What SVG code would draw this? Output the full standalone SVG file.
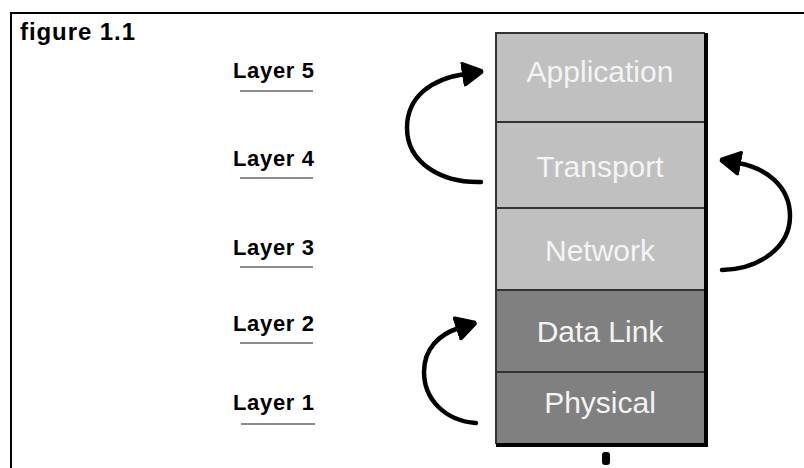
<svg xmlns="http://www.w3.org/2000/svg" width="804" height="468" viewBox="0 0 804 468">
  <style>
    .frame { stroke: #000; stroke-width: 2; fill: none; }
    .light { fill: #c0c0c0; }
    .dark { fill: #808080; }
    .name { font-family: "Liberation Sans", Arial, sans-serif; font-size: 30px; fill: #f4f4f4; text-anchor: middle; }
    .divider { stroke: #333; stroke-width: 2; }
    .label { font-family: "Liberation Sans", Arial, sans-serif; font-weight: bold; font-size: 22px; fill: #000; }
    .rule { stroke: #8c8c8c; stroke-width: 2; }
    .title { font-family: "Liberation Sans", Arial, sans-serif; font-weight: bold; font-size: 24px; fill: #000; }
    .curve { fill: none; stroke: #000; stroke-width: 4.5; stroke-linecap: round; }
  </style>
  <defs>
    <marker id="head" viewBox="0 0 22 26" markerWidth="22" markerHeight="26" refX="3" refY="13" orient="auto" markerUnits="userSpaceOnUse">
      <path d="M0,2 Q0,0 3,1 L21,11 Q22,13 21,15 L3,25 Q0,26 0,24 z" fill="#000"/>
    </marker>
  </defs>

  <rect width="804" height="468" fill="#fff"/>
  <!-- outer frame: left and top edges only -->
  <path class="frame" d="M11,468 V13 H804"/>

  <text class="title" x="20" y="40" textLength="115" lengthAdjust="spacing">figure 1.1</text>

  <!-- layer captions -->
  <g id="label-layer5">
    <text class="label" x="233" y="78" textLength="81" lengthAdjust="spacing">Layer 5</text>
    <line class="rule" x1="240" y1="91" x2="313" y2="91"/>
  </g>
  <g id="label-layer4">
    <text class="label" x="233" y="166" textLength="81" lengthAdjust="spacing">Layer 4</text>
    <line class="rule" x1="240" y1="178" x2="313" y2="178"/>
  </g>
  <g id="label-layer3">
    <text class="label" x="233" y="255" textLength="81" lengthAdjust="spacing">Layer 3</text>
    <line class="rule" x1="240" y1="267" x2="313" y2="267"/>
  </g>
  <g id="label-layer2">
    <text class="label" x="233" y="331" textLength="81" lengthAdjust="spacing">Layer 2</text>
    <line class="rule" x1="240" y1="343" x2="313" y2="343"/>
  </g>
  <g id="label-layer1">
    <text class="label" x="233" y="410" textLength="81" lengthAdjust="spacing">Layer 1</text>
    <line class="rule" x1="241" y1="424" x2="315" y2="424"/>
  </g>

  <!-- protocol stack -->
  <g id="application">
    <rect class="light" x="496" y="33" width="209" height="89"/>
    <text class="name" x="600" y="82">Application</text>
  </g>
  <g id="transport">
    <rect class="light" x="496" y="122" width="209" height="86"/>
    <text class="name" x="600" y="177">Transport</text>
  </g>
  <g id="network">
    <rect class="light" x="496" y="208" width="209" height="82"/>
    <text class="name" x="600" y="261">Network</text>
  </g>
  <g id="data-link">
    <rect class="dark" x="496" y="290" width="209" height="82"/>
    <text class="name" x="600" y="342">Data Link</text>
  </g>
  <g id="physical">
    <rect class="dark" x="496" y="372" width="209" height="72"/>
    <text class="name" x="600" y="413">Physical</text>
  </g>

  <!-- stack outline, dividers and drop edge -->
  <g id="stack-outline">
    <line class="divider" x1="496" y1="122" x2="705" y2="122"/>
    <line class="divider" x1="496" y1="208" x2="705" y2="208"/>
    <line class="divider" x1="496" y1="290" x2="705" y2="290"/>
    <line class="divider" x1="496" y1="372" x2="705" y2="372"/>
    <path d="M496,444 V33 H705" fill="none" stroke="#333" stroke-width="2"/>
    <path d="M706,33 V445 H496" fill="none" stroke="#000" stroke-width="4"/>
    <rect x="602" y="452" width="8" height="13" rx="3" fill="#000"/>
  </g>

  <!-- connectors between layers -->
  <g id="connectors">
    <path class="curve" d="M481,182 C440,183 407,162 407,128 C407,96 432,79 465,74" marker-end="url(#head)"/>
    <path class="curve" d="M722,270 C760,269 790,247 790,216 C790,186 766,168 738,163" marker-end="url(#head)"/>
    <path class="curve" d="M476,423 C446,421 424,400 424,372 C424,348 440,334 459,328" marker-end="url(#head)"/>
  </g>
</svg>
